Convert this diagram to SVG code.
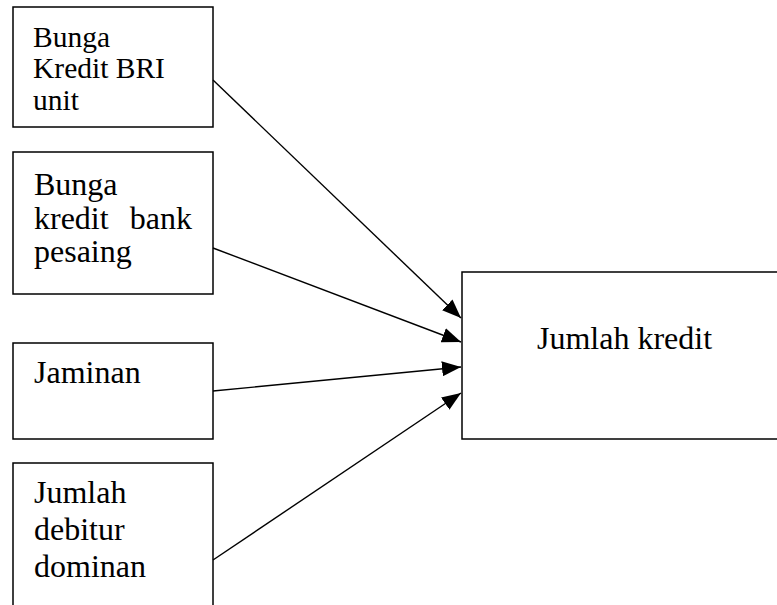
<svg xmlns="http://www.w3.org/2000/svg" width="777" height="605" viewBox="0 0 777 605">
<style>
  .box { fill: #ffffff; stroke: #000000; stroke-width: 1.5; }
  .t { font-family: "Liberation Serif", "Times New Roman", serif; fill: #000000; }
  .s28 { font-size: 29.5px; }
  .s32 { font-size: 32px; }
  .conn { stroke: #000000; stroke-width: 1.4; fill: none; marker-end: url(#arrow); }
</style>
<defs>
  <marker id="arrow" markerUnits="userSpaceOnUse" markerWidth="20" markerHeight="15" refX="19" refY="7.5" orient="auto">
    <path d="M0,0 L19,7.5 L0,15 Z" fill="#000000"/>
  </marker>
</defs>
<rect x="0" y="0" width="777" height="605" fill="#ffffff"/>
<g id="node-bunga-bri">
  <rect class="box" x="13" y="7" width="200" height="120"/>
  <text class="t s28" x="33" y="47">Bunga</text>
  <text class="t s28" x="33" y="78">Kredit BRI</text>
  <text class="t s28" x="33" y="110">unit</text>
</g>
<g id="node-bunga-pesaing">
  <rect class="box" x="13" y="152" width="200" height="142"/>
  <text class="t s32" x="34" y="195">Bunga</text>
  <text class="t s32" x="34" y="229">kredit</text>
  <text class="t s32" x="192" y="229" text-anchor="end">bank</text>
  <text class="t s32" x="34" y="262">pesaing</text>
</g>
<g id="node-jaminan">
  <rect class="box" x="13" y="343" width="200" height="96"/>
  <text class="t s32" x="34" y="383">Jaminan</text>
</g>
<g id="node-debitur">
  <rect class="box" x="13" y="463" width="200" height="150"/>
  <text class="t s32" x="34" y="503">Jumlah</text>
  <text class="t s32" x="34" y="540">debitur</text>
  <text class="t s32" x="34" y="577">dominan</text>
</g>
<g id="node-jumlah-kredit">
  <rect class="box" x="462" y="272" width="320" height="167"/>
  <text class="t s32" x="537" y="349">Jumlah kredit</text>
</g>
<g id="connectors">
  <line class="conn" x1="213" y1="80" x2="461" y2="318"/>
  <line class="conn" x1="213" y1="248" x2="461" y2="342"/>
  <line class="conn" x1="213" y1="391" x2="461" y2="367"/>
  <line class="conn" x1="213" y1="560" x2="461" y2="393"/>
</g>
</svg>
